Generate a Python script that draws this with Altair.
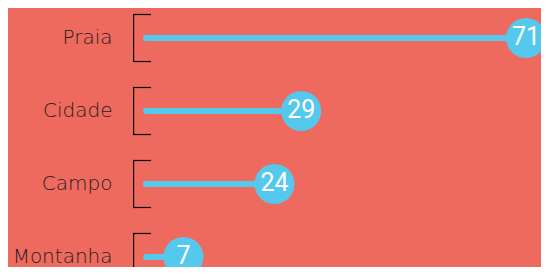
import altair as alt
import pandas as pd

categories = ["Praia", "Cidade", "Campo", "Montanha"]
values = [71, 29, 24, 7]

df = pd.DataFrame({"cat": categories, "value": values})

BG = "#EE6A5F"
BLUE = "#55C8EE"
FONT = "DejaVu Sans"

yenc = alt.Y("cat:N", sort=categories, title=None,
             scale=alt.Scale(paddingInner=0.356, paddingOuter=0, range=[0, 266]),
             axis=alt.Axis(domain=False, ticks=False, labelPadding=34,
                           labelFontSize=20, labelFont=FONT, labelFontWeight=200,
                           labelColor="#1E1E1E"))
xscale = alt.Scale(domain=[0, 71], nice=False, zero=True)

base = alt.Chart(df)

vbar = base.mark_bar(color="black").encode(
    y=yenc, x=alt.value(-13), x2=alt.value(-11.8))
top_tick = base.mark_rule(color="black", strokeWidth=1.2).encode(
    y=alt.Y("cat:N", sort=categories, bandPosition=0), x=alt.value(-13), x2=alt.value(5))
bot_tick = base.mark_rule(color="black", strokeWidth=1.2).encode(
    y=alt.Y("cat:N", sort=categories, bandPosition=1), x=alt.value(-13), x2=alt.value(5))

stem = base.mark_rule(color=BLUE, strokeWidth=6, strokeCap="round").encode(
    y=alt.Y("cat:N", sort=categories),
    x=alt.X("value:Q", scale=xscale, axis=None),
    x2=alt.datum(0))
dot = base.mark_circle(color=BLUE, opacity=1, size=1600).encode(
    y=alt.Y("cat:N", sort=categories),
    x=alt.X("value:Q", scale=xscale, axis=None))
lbl = base.mark_text(color="white", fontSize=25, font="Roboto", fontWeight=400,
                     align="center", baseline="middle", dy=-1).encode(
    y=alt.Y("cat:N", sort=categories),
    x=alt.X("value:Q", scale=xscale, axis=None),
    text="value:Q")

chart = alt.layer(vbar, top_tick, bot_tick, stem, dot, lbl).properties(
    width=380, height=252,
    padding={"left": 138, "top": 6.5, "right": 15, "bottom": 0},
    autosize=alt.AutoSizeParams(type="none"),
    background=BG,
).configure_view(stroke=None)

chart.save("out.html", embed_options={"renderer": "svg", "actions": False})
